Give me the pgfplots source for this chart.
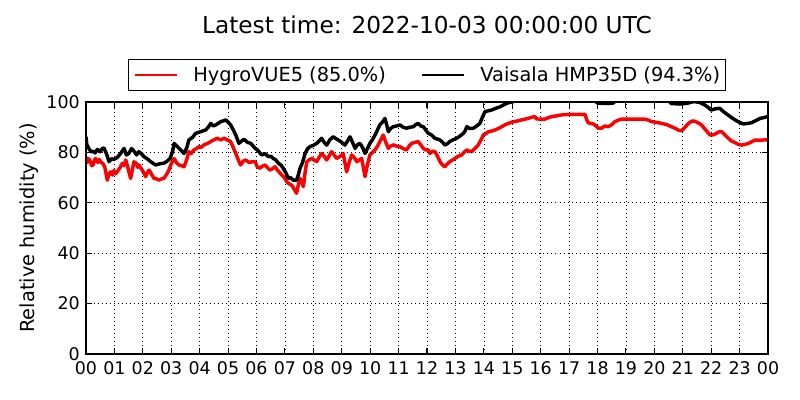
\documentclass[border=0pt]{standalone}
\usepackage{fontspec}
\setmainfont{DejaVu Sans}
\usepackage{pgfplots}
\pgfplotsset{compat=1.18}
\begin{document}
\begin{tikzpicture}
\path[use as bounding box] (-62.15pt,-33.25pt) rectangle (516.01pt,255.83pt);
\begin{axis}[
  at={(0,0)}, anchor=south west,
  scale only axis, width=492.9pt, height=182.1pt,
  xmin=0, xmax=24, ymin=0, ymax=100,
  xtick={0,1,...,24},
  xticklabels={00,01,02,03,04,05,06,07,08,09,10,11,12,13,14,15,16,17,18,19,20,21,22,23,00},
  ytick={0,20,40,60,80,100},
  yticklabels={0,20,40,60,80,100},
  tick pos=both, ticklabel pos=left,
  tick align=inside, major tick length=4pt,
  tick style={black, line width=0.8pt},
  axis line style={black, line width=1pt},
  grid=major,
  grid style={black, line width=0.5pt, dash pattern=on 0.7pt off 2.2pt},
  axis on top,
  ticklabel style={font=\fontsize{12.6}{15}\selectfont},
  xticklabel style={anchor=base, yshift=-14.7pt},
  yticklabel style={anchor=east, inner sep=0pt, xshift=-4.3pt},
  title={Latest time: 2022-10-03 00:00:00 UTC},
  title style={font=\fontsize{16.8}{20}\selectfont, at={(0.5,1)}, anchor=base, yshift=43.6pt},
  ylabel={Relative humidity (\%)},
  ylabel style={font=\fontsize{14}{17}\selectfont, at={(axis description cs:-0.0749,0.5)}, anchor=base},
  legend columns=2,
  legend image code/.code={\draw[#1, line width=2pt] (0pt,0pt) -- (30.4pt,0pt);},
  legend style={at={(0.5,1)}, anchor=south, yshift=8pt, draw=black, line width=0.8pt,
    font=\fontsize{14}{17}\selectfont, inner xsep=4pt, inner ysep=5pt,
    nodes={inner sep=0pt},
    /tikz/every odd column/.append style={column sep=10.6pt},
    /tikz/every even column/.append style={column sep=25.3pt}},
]
\addplot[red, line width=2.5pt, line join=round] coordinates {
(0.00,78.3)(0.05,76.0)(0.10,77.5)(0.16,76.3)(0.20,74.8)(0.25,75.0)(0.30,77.0)(0.34,77.6)(0.42,76.0)(0.47,77.2)(0.51,76.3)(0.60,75.5)
(0.66,74.3)(0.75,69.0)(0.81,71.5)(0.87,72.3)(0.93,71.0)(0.98,72.8)(1.04,71.5)(1.10,72.3)(1.15,73.2)(1.20,74.0)(1.28,75.7)
(1.34,74.8)(1.40,77.0)(1.46,74.5)(1.51,72.3)(1.57,69.7)(1.63,73.0)(1.69,76.3)(1.78,75.5)(1.82,74.0)(1.86,75.0)
(1.98,73.0)(2.10,70.4)(2.16,72.0)(2.22,73.0)(2.30,71.5)(2.39,69.7)(2.48,69.5)(2.57,69.0)
(2.66,69.5)(2.74,69.7)(2.82,71.0)(2.92,73.0)(3.00,75.5)(3.10,77.6)(3.18,76.0)(3.27,75.0)
(3.36,74.8)(3.45,74.3)(3.54,77.0)(3.62,80.3)(3.70,79.5)(3.80,81.0)(3.89,81.5)(3.98,82.3)
(4.06,82.0)(4.15,83.0)(4.27,83.5)(4.39,84.3)(4.50,85.0)(4.62,85.6)(4.74,85.0)(4.86,85.6)
(4.97,85.0)(5.09,84.3)(5.18,82.0)(5.27,79.6)(5.36,77.0)(5.44,75.0)(5.53,76.5)(5.62,77.0)
(5.74,76.0)(5.85,76.3)(5.95,76.3)(6.03,74.3)(6.12,73.7)(6.20,74.5)(6.30,75.0)(6.38,74.0)
(6.47,73.0)(6.56,73.5)(6.65,74.3)(6.77,72.5)(6.89,71.0)(6.98,70.0)(7.06,68.4)(7.15,67.5)
(7.24,67.0)(7.32,65.5)(7.41,63.8)(7.47,67.0)(7.53,69.7)(7.60,68.0)(7.65,66.4)(7.71,72.0)
(7.77,76.3)(7.85,77.0)(7.94,77.6)(8.03,77.0)(8.12,76.3)(8.20,78.0)(8.29,79.6)(8.38,78.5)
(8.47,77.0)(8.55,78.5)(8.64,80.3)(8.73,79.0)(8.82,77.6)(8.95,78.5)(9.05,79.6)(9.11,76.0)
(9.17,72.3)(9.26,76.0)(9.35,79.0)(9.44,78.0)(9.53,76.3)(9.62,77.0)(9.70,77.6)(9.76,74.0)
(9.82,70.4)(9.90,75.0)(9.99,79.0)(10.08,80.0)(10.17,81.0)(10.26,82.5)(10.34,84.3)(10.40,85.5)
(10.46,86.9)(10.55,84.0)(10.64,81.6)(10.72,82.5)(10.81,83.0)(10.93,82.5)(11.05,82.3)(11.16,81.5)
(11.28,81.0)(11.37,82.5)(11.46,83.6)(11.58,84.0)(11.69,84.3)(11.78,83.0)(11.87,81.6)(11.95,81.0)
(12.04,81.0)(12.10,79.6)(12.20,80.5)(12.28,80.3)(12.37,78.5)(12.46,76.3)(12.55,75.0)(12.63,74.3)
(12.72,75.5)(12.80,76.3)(12.90,77.0)(12.98,77.6)(13.10,78.5)(13.22,79.0)(13.30,80.0)(13.40,81.0)
(13.48,80.5)(13.57,80.3)(13.68,81.5)(13.80,82.9)(13.90,85.0)(13.98,86.9)(14.08,87.5)(14.16,88.2)
(14.28,88.5)(14.39,88.9)(14.51,89.5)(14.63,90.2)(14.75,91.0)(14.86,91.5)(15.04,92.2)(15.20,92.5)
(15.33,92.9)(15.45,93.2)(15.56,93.5)(15.70,94.0)(15.80,94.2)(15.85,93.3)(16.00,93.2)(16.15,93.2)
(16.27,93.8)(16.39,94.2)(16.55,94.5)(16.68,94.8)(16.85,95.0)(16.97,95.1)(17.56,95.1)(17.62,93.0)
(17.67,91.8)(17.76,91.5)(17.85,91.3)(17.95,90.5)(18.03,89.6)(18.15,89.6)(18.25,90.5)(18.38,90.2)
(18.50,91.0)(18.61,92.2)(18.73,92.8)(18.85,93.2)(19.67,93.2)(19.80,92.8)(19.90,92.2)(20.05,92.0)
(20.26,91.5)(20.45,91.0)(20.60,90.2)(20.75,89.5)(20.85,88.8)(20.96,88.6)(21.08,90.0)(21.20,91.5)
(21.30,92.3)(21.37,92.5)(21.50,92.0)(21.66,90.9)(21.80,89.0)(21.96,86.9)(22.08,87.0)(22.19,87.6)
(22.30,88.3)(22.37,88.2)(22.48,87.0)(22.60,85.6)(22.72,84.5)(22.84,83.9)(22.95,83.2)(23.07,82.9)
(23.20,83.2)(23.31,83.6)(23.42,84.2)(23.54,84.9)(23.78,84.9)(24.00,85.0)
};
\addlegendentry{HygroVUE5 (85.0\%)}
\addplot[black, line width=2.5pt, line join=round] coordinates {
(0.00,86.2)(0.03,83.0)(0.10,81.6)(0.18,80.2)(0.25,80.5)(0.32,79.8)(0.40,81.2)(0.50,80.3)(0.57,81.5)(0.63,81.8)(0.72,79.5)
(0.81,76.3)(0.90,77.5)(0.98,77.2)(1.10,78.0)(1.22,79.6)(1.34,81.6)(1.42,79.0)(1.51,79.6)
(1.60,81.5)(1.69,80.5)(1.78,79.0)(1.86,80.3)(1.95,79.5)(2.04,78.3)(2.15,77.5)(2.28,76.3)
(2.45,75.0)(2.60,75.5)(2.74,75.7)(2.85,76.5)(2.96,77.6)(3.05,80.5)(3.10,83.6)(3.20,82.5)
(3.33,81.0)(3.45,79.6)(3.55,82.0)(3.62,84.9)(3.75,86.0)(3.86,87.6)(4.03,88.2)(4.21,88.9)
(4.30,90.0)(4.39,91.5)(4.48,90.5)(4.56,90.9)(4.65,91.5)(4.74,92.2)(4.85,92.6)(4.92,92.9)
(5.00,92.0)(5.09,90.9)(5.18,89.0)(5.27,86.9)(5.38,83.6)(5.47,84.5)(5.56,85.2)(5.68,84.0)
(5.80,83.6)(5.95,81.6)(6.03,81.0)(6.18,79.0)(6.30,79.5)(6.42,78.3)(6.50,78.5)(6.59,77.6)
(6.68,77.0)(6.77,75.7)(6.86,75.0)(6.94,73.7)(7.03,72.0)(7.12,69.7)(7.20,70.0)(7.29,69.0)
(7.41,69.0)(7.47,71.0)(7.53,73.7)(7.62,76.0)(7.71,79.6)(7.80,81.5)(7.88,82.3)(8.00,82.8)
(8.12,83.6)(8.20,84.5)(8.29,85.6)(8.38,84.0)(8.47,82.9)(8.58,85.0)(8.70,86.2)(8.79,85.5)
(8.88,84.9)(9.00,84.0)(9.11,82.9)(9.20,84.5)(9.29,86.2)(9.38,84.0)(9.47,81.6)(9.55,83.0)
(9.64,83.6)(9.73,82.0)(9.82,79.6)(9.90,81.5)(9.99,83.6)(10.08,85.0)(10.17,86.9)(10.26,89.0)
(10.34,90.9)(10.43,92.0)(10.52,93.5)(10.58,91.0)(10.64,88.2)(10.72,89.5)(10.81,90.2)(10.93,90.5)
(11.05,90.9)(11.16,90.0)(11.28,89.6)(11.40,90.0)(11.52,90.2)(11.60,91.0)(11.69,91.5)(11.78,90.5)
(11.87,90.2)(11.95,89.0)(12.04,87.6)(12.15,87.0)(12.28,85.6)(12.45,85.0)(12.55,84.0)(12.63,82.9)
(12.72,83.5)(12.80,84.3)(12.92,85.0)(13.04,85.6)(13.16,86.5)(13.28,87.6)(13.34,88.5)(13.40,90.2)
(13.50,89.5)(13.63,89.6)(13.75,90.5)(13.86,91.5)(13.95,94.0)(14.04,96.2)(14.15,96.5)(14.27,96.8)
(14.42,97.5)(14.57,98.1)(14.72,99.0)(14.86,99.7)(15.04,100.2)(15.30,101.0)(17.85,101.0)(18.00,99.6)
(18.30,99.4)(18.55,99.6)(18.70,101.0)(20.45,101.0)(20.60,99.4)(20.90,99.2)(21.15,99.5)(21.40,100.2)
(21.60,99.8)(21.78,98.8)(21.90,97.8)(22.00,96.8)(22.15,97.3)(22.30,97.5)(22.45,96.0)(22.60,94.8)
(22.72,93.8)(22.84,92.9)(22.98,92.0)(23.13,91.3)(23.28,91.5)(23.42,91.8)(23.55,92.5)(23.72,93.5)
(23.85,93.8)(24.00,94.3)
};
\addlegendentry{Vaisala HMP35D (94.3\%)}
\end{axis}
\end{tikzpicture}
\end{document}
